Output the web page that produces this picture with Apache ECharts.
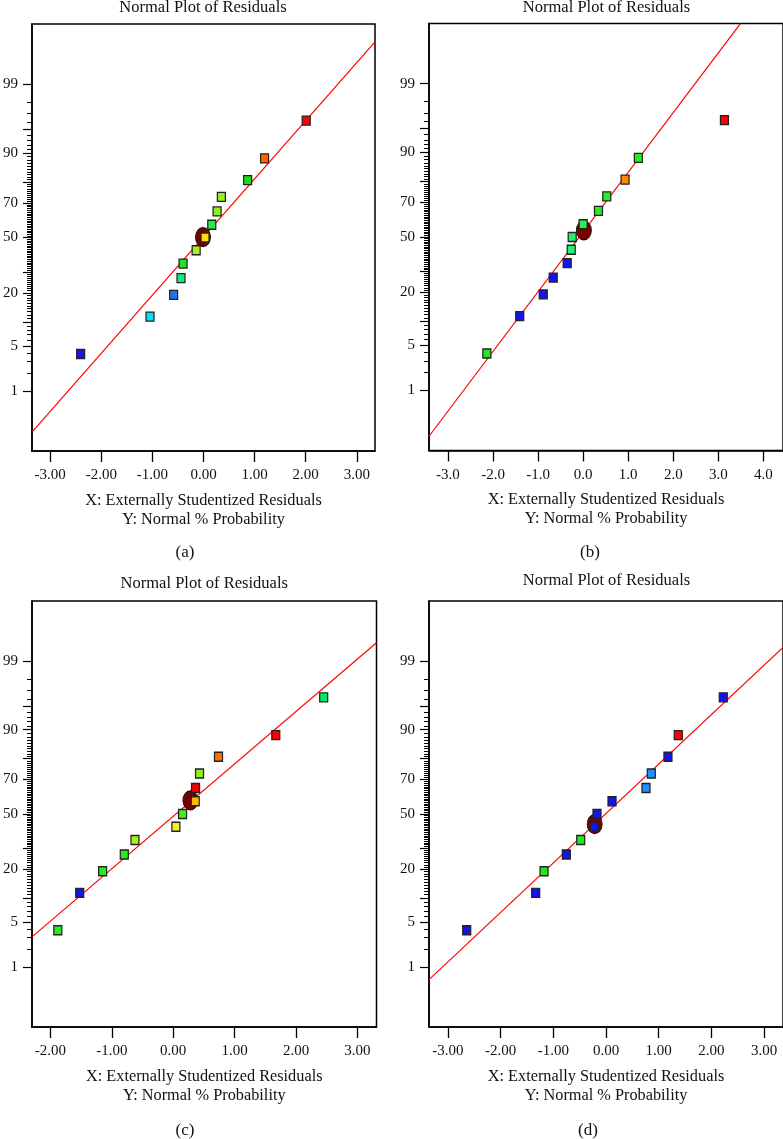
<!DOCTYPE html>
<html>
<head>
<meta charset="utf-8">
<script src="https://cdn.jsdelivr.net/npm/echarts@6/dist/echarts.min.js"></script>
<style>
  html, body { margin: 0; padding: 0; background: #fff; }
  #chart { width: 783px; height: 1139px; }
</style>
</head>
<body>
<div id="chart"></div>
<script>
// ---------------- DATA ----------------
// Normal % probability of each ranked residual (same 13 ranks in every panel)
const normalPct = [3.85, 11.5, 19.2, 26.9, 34.6, 42.3, 50, 57.7, 65.4, 73.1, 80.8, 88.5, 96.2];

// Externally studentized residuals, panel (a)-(d)
const residA = [-2.405, -1.047, -0.585, -0.44, -0.40, -0.144, 0.03, 0.162, 0.266, 0.35, 0.864, 1.195, 2.01];
const residB = [-2.137, -1.407, -0.885, -0.664, -0.354, -0.265, -0.243, 0.0, 0.34, 0.524, 0.93, 1.225, 3.135];
const residC = [-1.88, -1.523, -1.15, -0.797, -0.623, 0.043, 0.152, 0.358, 0.363, 0.428, 0.737, 1.67, 2.45];
const residD = [-2.644, -1.335, -1.176, -0.753, -0.48, -0.222, -0.171, 0.114, 0.759, 0.86, 1.176, 1.372, 2.226];

// Point colours (colour scale of the response), per panel
const colorsA = ['#1414f5', '#00e1ff', '#1e74f0', '#10ee80', '#22e022', '#a2f51e', '#ffe000', '#22ee44', '#8cf020', '#96f01e', '#14e014', '#ff6400', '#ff0000'];
const colorsB = ['#22e622', '#1414f0', '#1414f0', '#1414f0', '#1414f0', '#22f070', '#22f070', '#2af050', '#22ee22', '#22ee22', '#ff8a00', '#22ee22', '#ff0000'];
const colorsC = ['#22ee22', '#1414f0', '#22ee22', '#22ee22', '#a8f020', '#f0f020', '#44f020', '#ffbb00', '#ff0000', '#8cf020', '#ff7000', '#ff0000', '#00ee66'];
const colorsD = ['#1414f0', '#1414f0', '#22e622', '#1414f0', '#22e622', '#1414f0', '#1414f0', '#1414f0', '#1e90ff', '#1e90ff', '#1414f0', '#ff0000', '#1414f0'];

// Fitted reference line end points: [residual, normal %]
const fitA = [[-3.357, 0.157], [3.357, 99.851]];
const fitB = [[-3.42, 0.1248], [3.489, 99.94]];
const fitC = [[-2.30, 3.08], [3.31, 99.541]];
const fitD = [[-3.36, 0.587], [3.36, 99.436]];

// Highlighted (ellipse) point: [residual, normal %]
const markA = [-0.01, 50.2];
const markB = [0.016, 54.0];
const markC = [0.28, 58.2];
const markD = [-0.215, 43.9];

// Tick values
const xTicksA = [-3, -2, -1, 0, 1, 2, 3];
const xTicksB = [-3, -2, -1, 0, 1, 2, 3, 4];
const xTicksC = [-2, -1, 0, 1, 2, 3];
const xTicksD = [-3, -2, -1, 0, 1, 2, 3];
const yLabelPct = [1, 5, 20, 50, 70, 90, 99];
const yMajorPct = [1, 5, 10, 20, 30, 50, 70, 80, 90, 95, 99];
const yMinorPct = Array.from({length: 99}, (_, i) => i + 1).filter(v => yMajorPct.indexOf(v) < 0);

const plotTitle = 'Normal Plot of Residuals';
const xName = 'X: Externally Studentized Residuals\nY: Normal % Probability';
const panelTags = ['(a)', '(b)', '(c)', '(d)'];

// ---------------- probability (probit) scale ----------------
function probit(p) {
  const a = [-3.969683028665376e+01, 2.209460984245205e+02, -2.759285104469687e+02, 1.383577518672690e+02, -3.066479806614716e+01, 2.506628277459239e+00];
  const b = [-5.447609879822406e+01, 1.615858368580409e+02, -1.556989798598866e+02, 6.680131188771972e+01, -1.328068155288572e+01];
  const c = [-7.784894002430293e-03, -3.223964580411365e-01, -2.400758277161838e+00, -2.549732539343734e+00, 4.374664141464968e+00, 2.938163982698783e+00];
  const d = [7.784695709041462e-03, 3.224671290700398e-01, 2.445134137142996e+00, 3.754408661907416e+00];
  const pl = 0.02425, ph = 1 - pl;
  let q, r;
  if (p < pl) {
    q = Math.sqrt(-2 * Math.log(p));
    return (((((c[0]*q+c[1])*q+c[2])*q+c[3])*q+c[4])*q+c[5]) / ((((d[0]*q+d[1])*q+d[2])*q+d[3])*q+1);
  }
  if (p <= ph) {
    q = p - 0.5; r = q * q;
    return (((((a[0]*r+a[1])*r+a[2])*r+a[3])*r+a[4])*r+a[5])*q / (((((b[0]*r+b[1])*r+b[2])*r+b[3])*r+b[4])*r+1);
  }
  q = Math.sqrt(-2 * Math.log(1 - p));
  return -(((((c[0]*q+c[1])*q+c[2])*q+c[3])*q+c[4])*q+c[5]) / ((((d[0]*q+d[1])*q+d[2])*q+d[3])*q+1);
}
const zOf = pct => probit(pct / 100);

// ---------------- layout ----------------
const FONT = '"Liberation Serif", "DejaVu Serif", serif';
const Z_RANGE = 3.24;
const panels = [
  {resid: residA, colors: colorsA, fit: fitA, mark: markA, ticks: xTicksA, dec: 2, xMin: -3.357, xMax: 3.357,
   grid: {left: 31, top: 24, width: 344, height: 427}, titleY: 8, tagX: 185, tagY: 553},
  {resid: residB, colors: colorsB, fit: fitB, mark: markB, ticks: xTicksB, dec: 1, xMin: -3.42, xMax: 4.434,
   grid: {left: 429, top: 23.5, width: 355, height: 427}, titleY: 8, tagX: 590, tagY: 553},
  {resid: residC, colors: colorsC, fit: fitC, mark: markC, ticks: xTicksC, dec: 2, xMin: -2.30, xMax: 3.31,
   grid: {left: 32, top: 601, width: 344.5, height: 426}, titleY: 584, tagX: 185, tagY: 1131},
  {resid: residD, colors: colorsD, fit: fitD, mark: markD, ticks: xTicksD, dec: 2, xMin: -3.36, xMax: 3.36,
   grid: {left: 429, top: 601, width: 355, height: 426}, titleY: 581, tagX: 588, tagY: 1131}
];

const grids = [], xAxes = [], yAxes = [], series = [], graphics = [];
const yLabelZ = yLabelPct.map(zOf);
const yMajorZ = yMajorPct.map(zOf);
const yMinorZ = yMinorPct.map(zOf);
const axisLineStyle = {color: '#000', width: 1.5};

panels.forEach((pn, i) => {
  grids.push(Object.assign({show: true, borderColor: '#000', borderWidth: 1.5, backgroundColor: 'transparent', containLabel: false}, pn.grid));

  xAxes.push({
    type: 'value', gridIndex: i, min: pn.xMin, max: pn.xMax,
    axisLine: {show: true, onZero: false, lineStyle: axisLineStyle},
    axisTick: {show: true, inside: false, length: 11, customValues: pn.ticks, lineStyle: {color: '#000', width: 1.3}},
    axisLabel: {show: true, customValues: pn.ticks, margin: 17, fontFamily: FONT, fontSize: 15, color: '#111',
                formatter: v => Number(v).toFixed(pn.dec)},
    splitLine: {show: false},
    name: xName, nameLocation: 'middle', nameGap: 40,
    nameTextStyle: {fontFamily: FONT, fontSize: 16.3, lineHeight: 19, color: '#111'}
  });

  // main y axis (labels + major ticks)
  yAxes.push({
    type: 'value', gridIndex: i, min: -Z_RANGE, max: Z_RANGE, position: 'left',
    axisLine: {show: true, onZero: false, lineStyle: axisLineStyle},
    axisTick: {show: true, inside: false, length: 9, customValues: yMajorZ, lineStyle: {color: '#000', width: 1.2}},
    axisLabel: {show: true, customValues: yLabelZ, margin: 14, fontFamily: FONT, fontSize: 15, color: '#111',
                formatter: v => {
                  const k = yLabelZ.findIndex(z => Math.abs(z - v) < 1e-3);
                  return k >= 0 ? String(yLabelPct[k]) : '';
                }},
    splitLine: {show: false}
  });
  // minor ticks y axis (overlaid on the main one)
  yAxes.push({
    type: 'value', gridIndex: i, min: -Z_RANGE, max: Z_RANGE, position: 'left', offset: 0,
    axisLine: {show: false, onZero: false},
    axisTick: {show: true, inside: false, length: 5, customValues: yMinorZ, lineStyle: {color: '#000', width: 1}},
    axisLabel: {show: false},
    splitLine: {show: false}
  });
  const yIdx = yAxes.length - 2;

  series.push({
    type: 'line', xAxisIndex: i, yAxisIndex: yIdx, clip: true, silent: true, z: 2,
    symbol: 'none', lineStyle: {color: '#ff0000', width: 1.2},
    data: pn.fit.map(pt => [pt[0], zOf(pt[1])])
  });
  series.push({
    type: 'scatter', xAxisIndex: i, yAxisIndex: yIdx, z: 3, silent: true,
    symbol: 'circle', symbolSize: [15, 19],
    itemStyle: {color: '#7a0000', borderColor: '#111', borderWidth: 1, opacity: 1},
    data: [[pn.mark[0], zOf(pn.mark[1])]]
  });
  series.push({
    type: 'scatter', xAxisIndex: i, yAxisIndex: yIdx, z: 4, silent: true,
    symbol: 'rect', symbolSize: [8, 9],
    itemStyle: {color: p => pn.colors[p.dataIndex], borderColor: '#222', borderWidth: 1.3, opacity: 1},
    data: pn.resid.map((r, k) => [r, zOf(normalPct[k])])
  });

  const cx = pn.grid.left + pn.grid.width / 2;
  graphics.push({
    type: 'text', x: cx, y: pn.titleY,
    style: {text: plotTitle, font: '16.5px ' + FONT, fill: '#111', align: 'center', verticalAlign: 'middle'}
  });
  graphics.push({
    type: 'text', x: pn.tagX, y: pn.tagY,
    style: {text: panelTags[i], font: '17px ' + FONT, fill: '#111', align: 'center', verticalAlign: 'middle'}
  });
});

const chart = echarts.init(document.getElementById('chart'), null, {renderer: 'canvas'});
chart.setOption({
  animation: false,
  backgroundColor: '#fff',
  grid: grids,
  xAxis: xAxes,
  yAxis: yAxes,
  series: series,
  graphic: graphics
});
</script>
</body>
</html>
